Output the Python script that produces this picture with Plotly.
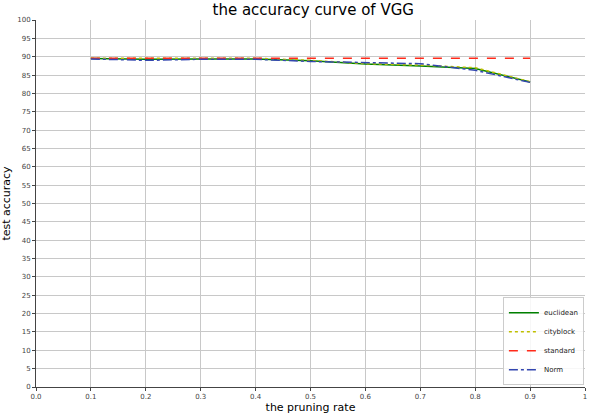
import plotly.graph_objects as go

rates = [0.1, 0.2, 0.3, 0.4, 0.5, 0.6, 0.7, 0.8, 0.9]
euclidean = [89.5, 89.3, 89.4, 89.4, 88.9, 88.0, 87.5, 86.8, 83.1]
cityblock = [89.6, 89.5, 89.6, 89.6, 89.0, 88.1, 87.7, 87.0, 83.2]
standard = [89.6, 89.6, 89.6, 89.6, 89.6, 89.6, 89.6, 89.6, 89.6]
norm = [89.4, 89.0, 89.3, 89.3, 88.7, 88.4, 88.1, 86.3, 83.0]

x_ticks = [round(i * 0.1, 1) for i in range(11)]
x_tick_text = ["0.0", "0.1", "0.2", "0.3", "0.4", "0.5", "0.6", "0.7", "0.8", "0.9", "1"]
y_ticks = list(range(0, 101, 5))

fig = go.Figure()
fig.add_trace(go.Scatter(x=rates, y=euclidean, name="euclidean", mode="lines",
                         line=dict(color="#008000", width=1.5, dash="solid")))
fig.add_trace(go.Scatter(x=rates, y=cityblock, name="cityblock", mode="lines",
                         line=dict(color="#bfbf00", width=1.5, dash="dot")))
fig.add_trace(go.Scatter(x=rates, y=standard, name="standard", mode="lines",
                         line=dict(color="#ff2a1a", width=1.5, dash="dash")))
fig.add_trace(go.Scatter(x=rates, y=norm, name="Norm", mode="lines",
                         line=dict(color="#3346b0", width=1.5, dash="dashdot")))

fig.update_layout(
    width=591, height=415,
    margin=dict(l=36, r=4, t=20, b=28),
    paper_bgcolor="white", plot_bgcolor="white",
    font=dict(family="DejaVu Sans", color="#222"),
    title=dict(text="the accuracy curve of VGG", x=0.53, xanchor="center",
               y=0.99, yanchor="top", font=dict(size=15, color="black")),
    xaxis=dict(range=[0, 1], tickvals=x_ticks, ticktext=x_tick_text,
               showgrid=True, gridcolor="#c8c8c8", gridwidth=1,
               showline=True, linecolor="#444", linewidth=1, mirror=False,
               ticks="outside", ticklen=3, tickcolor="#444",
               tickfont=dict(size=7, color="#444"),
               title=dict(text="the pruning rate", font=dict(size=11, color="black"), standoff=2),
               zeroline=False),
    yaxis=dict(range=[0, 100], tickvals=y_ticks,
               showgrid=True, gridcolor="#c8c8c8", gridwidth=1,
               showline=True, linecolor="#444", linewidth=1,
               ticks="outside", ticklen=3, tickcolor="#444",
               tickfont=dict(size=7, color="#444"),
               title=dict(text="test accuracy", font=dict(size=11, color="black"), standoff=4),
               zeroline=False),
    legend=dict(x=0.998, y=0.005, xanchor="right", yanchor="bottom",
                bgcolor="rgba(255,255,255,0.85)", bordercolor="#cccccc", borderwidth=1,
                font=dict(size=7, color="#222"), itemwidth=30, tracegroupgap=0),
    showlegend=True,
)

fig.write_html("out.html")
